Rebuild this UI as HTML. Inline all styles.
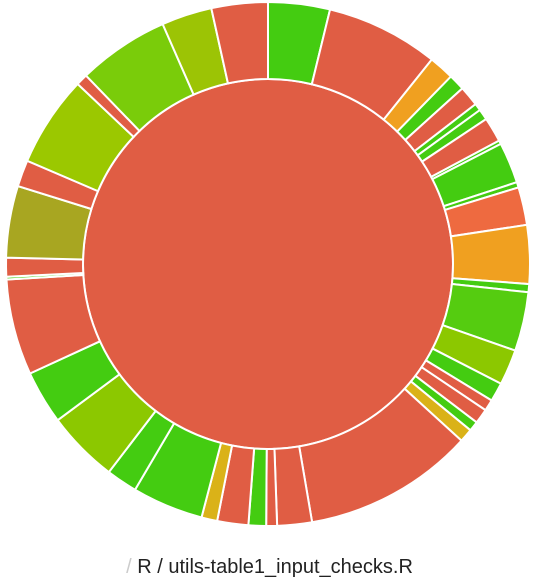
<!DOCTYPE html>
<html><head><meta charset="utf-8"><style>
body{margin:0;background:#fff;width:539px;height:586px;overflow:hidden;font-family:"Liberation Sans",sans-serif}
svg{position:absolute;left:0;top:0}
#cap{position:absolute;left:0;width:539px;top:556px;text-align:center;font-size:20px;color:#222;white-space:nowrap}
#cap .s{color:#ccc}
</style></head><body>
<svg id="chart" width="539" height="586"></svg>
<div id="cap"><span class="s">/</span> R / utils-table1_input_checks.R</div>
<script>
// segment end angles (degrees clockwise from top) and coverage colors
const segEnds=[13.7,38.7,44.3,47.9,52.4,54.0,56.4,61.9,62.7,71.8,73.0,81.4,94.4,96.2,109.3,117.2,121.4,123.9,127.2,129.4,132.4,170.3,178.0,180.4,184.3,191.2,194.7,210.5,217.4,233.4,245.3,266.6,267.2,271.4,287.3,293.2,313.4,316.0,336.3,347.5,360];
const segColors=["#44cc11","#e05d44","#f0a020","#44cc11","#e05d44","#44cc11","#44cc11","#e05d44","#44cc11","#44cc11","#44cc11","#ee6a40","#f0a020","#44cc11","#55cc10","#8cc800","#44cc11","#e05d44","#e05d44","#44cc11","#dab218","#e05d44","#e05d44","#e05d44","#44cc11","#e05d44","#dab218","#44cc11","#44cc11","#8cc800","#44cc11","#e05d44","#44cc11","#e05d44","#a8a621","#e05d44","#9bc800","#e05d44","#7acc0a","#9cc405","#e05d44"];
const cx=268,cy=264,r0=185,r1=262;
const svg=document.getElementById('chart');
const NS='http://www.w3.org/2000/svg';
function pt(a,r){const t=a*Math.PI/180;return [cx+r*Math.sin(t),cy-r*Math.cos(t)];}
const c=document.createElementNS(NS,'circle');
c.setAttribute('cx',cx);c.setAttribute('cy',cy);c.setAttribute('r',r0);
c.setAttribute('fill','#e05d44');c.setAttribute('stroke','#fff');c.setAttribute('stroke-width','2');


svg.appendChild(c);
let start=0;
segEnds.forEach((e,i)=>{
  const a=pt(start,r0),b=pt(start,r1),d=pt(e,r1),f=pt(e,r0);
  const large=(e-start)>180?1:0;
  const p=document.createElementNS(NS,'path');
  p.setAttribute('d',`M${a[0]},${a[1]}L${b[0]},${b[1]}A${r1},${r1} 0 ${large} 1 ${d[0]},${d[1]}L${f[0]},${f[1]}A${r0},${r0} 0 ${large} 0 ${a[0]},${a[1]}Z`);
  p.setAttribute('fill',segColors[i]);p.setAttribute('stroke','#fff');p.setAttribute('stroke-width','2');
  
  
  svg.appendChild(p);
  start=e;
});
</script>
</body></html>
